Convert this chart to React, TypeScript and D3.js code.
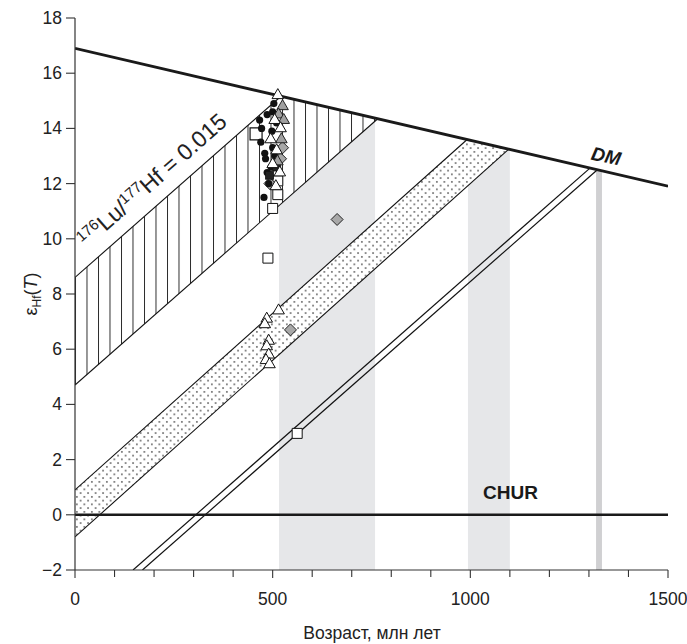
import React from "react";
import * as d3 from "d3";

// ---- data ----
const xTicks = [0, 500, 1000, 1500];
const xMinorTicks = [100, 200, 300, 400, 600, 700, 800, 900, 1100, 1200, 1300, 1400];
const yTicks = [-2, 0, 2, 4, 6, 8, 10, 12, 14, 16, 18];

// DM line: [eps at 0 Ma, slope per Ma]
const dmLine = [16.9, -0.00333];
const churLine = [0, 0];
// hatched band (176Lu/177Hf = 0.015): [upper intercept, lower intercept, slope]
const hatchBand = [8.6, 4.7, 0.0126];
// dotted band
const dotBand = [0.9, -0.8, 0.0128];
// double line
const doubleLine = [-3.85, -4.15, 0.0126];
// grey age intervals [from, to]
const greyBands = [[516, 759], [994, 1100]];
const darkBands = [[1318, 1333]];

const blackCircles = [
  [467, 14.3], [486, 14.5], [500, 14.6], [470, 13.5], [498, 13.9], [480, 13.1],
  [500, 13.3], [486, 12.4], [478, 11.5], [496, 12.6], [510, 14.2], [505, 13.0],
  [490, 12.0], [482, 12.9], [472, 14.0], [503, 14.9]
];
const openTriangles = [
  [513, 15.2], [505, 14.3], [520, 14.0], [495, 13.6], [510, 13.2], [500, 12.7],
  [518, 12.4], [508, 11.9],
  [515, 7.4], [485, 7.1], [480, 6.9], [490, 6.3], [485, 6.1], [490, 5.8], [483, 5.6], [492, 5.45]
];
const greyTriangles = [[525, 14.8], [515, 14.5], [522, 13.6], [512, 12.8], [528, 14.3]];
const openSquares = [[458, 13.8], [513, 12.1], [513, 11.6], [500, 11.1], [488, 9.3], [562, 2.95]];
const blackSquares = [[510, 12.6], [492, 12.3]];
const greyDiamonds = [[493, 12.0], [520, 12.9], [525, 13.3], [663, 10.7], [545, 6.7]];

// ---- layout ----
const W = 687, H = 644;
const x = d3.scaleLinear().domain([0, 1500]).range([75, 668]);
const y = d3.scaleLinear().domain([-2, 18]).range([570, 18]);

const dm = (t: number) => dmLine[0] + dmLine[1] * t;
const meetDM = (a: number, s: number) => (dmLine[0] - a) / (s - dmLine[1]);
const lineFn = d3.line<number[]>().x((d) => x(d[0])).y((d) => y(d[1]));

function bandPolygon(a: number, b: number, s: number) {
  const tu = meetDM(a, s), tl = meetDM(b, s);
  return lineFn([[0, a], [tu, dm(tu)], [tl, dm(tl)], [0, b]]) + "Z";
}
function segToDM(a: number, s: number, t0: number) {
  const t1 = meetDM(a, s);
  return lineFn([[t0, a + s * t0], [t1, dm(t1)]]);
}
function ageBand(b: number[]) {
  return lineFn([[b[0], -2], [b[0], dm(b[0])], [b[1], dm(b[1])], [b[1], -2]]) + "Z";
}

const FONT = "'Liberation Sans', Arial, sans-serif";

export default function App() {
  const tri = d3.symbol().type(d3.symbolTriangle).size(58)()!;
  const sq = d3.symbol().type(d3.symbolSquare).size(100)()!;
  const diamond = "M0,-6L6,0L0,6L-6,0Z";

  // hatched label placement
  const la = 232;
  const angle = (Math.atan2(-(y(hatchBand[0] + hatchBand[2] * 100) - y(hatchBand[0])), x(100) - x(0)) * 180) / Math.PI;
  const lx = x(la), ly = y(hatchBand[0] + hatchBand[2] * la);
  const off = 14;
  const rad = (angle * Math.PI) / 180;
  const tx = lx - off * Math.sin(rad), ty = ly - off * Math.cos(rad);

  // double-line start at eps=-2
  const dl0 = (-2 - doubleLine[0]) / doubleLine[2];
  const dl1 = (-2 - doubleLine[1]) / doubleLine[2];

  return (
    <svg width={W} height={H} style={{ position: "absolute", left: 0, top: 0, background: "#fff" }} fontFamily={FONT}>
      <defs>
        <pattern id="hatch" patternUnits="userSpaceOnUse" width={11.5} height={10} x={x(0)}>
          <line x1={0.5} y1={0} x2={0.5} y2={10} stroke="#111" strokeWidth={0.9} />
        </pattern>
        <pattern id="dots" patternUnits="userSpaceOnUse" width={7.5} height={7.5}>
          <rect x={1} y={1} width={1.7} height={1.7} fill="#6e6e6e" />
          <rect x={4.75} y={4.75} width={1.7} height={1.7} fill="#6e6e6e" />
        </pattern>
        <clipPath id="plot">
          <rect x={x(0)} y={y(18)} width={x(1500) - x(0)} height={y(-2) - y(18)} />
        </clipPath>
      </defs>

      <g clipPath="url(#plot)">
        {greyBands.map((b, i) => (
          <path key={i} d={ageBand(b)} fill="#e6e7e9" />
        ))}
        {darkBands.map((b, i) => (
          <path key={i} d={ageBand(b)} fill="#d0d0d2" />
        ))}

        <path d={bandPolygon(hatchBand[0], hatchBand[1], hatchBand[2])} fill="#fff" />
        <path d={bandPolygon(hatchBand[0], hatchBand[1], hatchBand[2])} fill="url(#hatch)" />
        <path d={segToDM(hatchBand[0], hatchBand[2], 0)!} stroke="#111" strokeWidth={1.1} fill="none" />
        <path d={segToDM(hatchBand[1], hatchBand[2], 0)!} stroke="#111" strokeWidth={1.1} fill="none" />

        <path d={bandPolygon(dotBand[0], dotBand[1], dotBand[2])} fill="#fff" />
        <path d={bandPolygon(dotBand[0], dotBand[1], dotBand[2])} fill="url(#dots)" />
        <path d={segToDM(dotBand[0], dotBand[2], 0)!} stroke="#111" strokeWidth={1.1} fill="none" />
        <path d={segToDM(dotBand[1], dotBand[2], 0)!} stroke="#111" strokeWidth={1.1} fill="none" />

        <path d={segToDM(doubleLine[0], doubleLine[2], dl0)!} stroke="#111" strokeWidth={1.2} fill="none" />
        <path d={segToDM(doubleLine[1], doubleLine[2], dl1)!} stroke="#111" strokeWidth={1.2} fill="none" />

        <line x1={x(0)} x2={x(1500)} y1={y(churLine[0])} y2={y(churLine[0] + churLine[1] * 1500)} stroke="#1a1a1a" strokeWidth={2.6} />
        <line x1={x(0)} x2={x(1500)} y1={y(dm(0))} y2={y(dm(1500))} stroke="#1a1a1a" strokeWidth={2.8} />
      </g>

      {/* points */}
      {openSquares.map((d, i) => (
        <path key={"os" + i} d={sq} transform={`translate(${x(d[0])},${y(d[1])})${i === 0 ? " scale(1.2)" : ""}`} fill="#fff" stroke="#111" strokeWidth={1} />
      ))}
      {greyDiamonds.map((d, i) => (
        <path key={"gd" + i} d={diamond} transform={`translate(${x(d[0])},${y(d[1])})`} fill="#a8a8a8" stroke="#222" strokeWidth={1} />
      ))}
      {blackCircles.map((d, i) => (
        <circle key={"bc" + i} cx={x(d[0])} cy={y(d[1])} r={3.6} fill="#111" />
      ))}
      {blackSquares.map((d, i) => (
        <path key={"bs" + i} d={sq} transform={`translate(${x(d[0])},${y(d[1])}) scale(0.8)`} fill="#222" stroke="#111" strokeWidth={1} />
      ))}
      {greyTriangles.map((d, i) => (
        <path key={"gt" + i} d={tri} transform={`translate(${x(d[0])},${y(d[1])})`} fill="#a0a0a0" stroke="#222" strokeWidth={1} />
      ))}
      {openTriangles.map((d, i) => (
        <path key={"ot" + i} d={tri} transform={`translate(${x(d[0])},${y(d[1])})`} fill="#fff" stroke="#111" strokeWidth={1} />
      ))}

      {/* axes */}
      <line x1={x(0)} x2={x(0)} y1={y(-2)} y2={y(18)} stroke="#333" strokeWidth={1.2} />
      <line x1={x(0)} x2={x(1500)} y1={y(-2)} y2={y(-2)} stroke="#333" strokeWidth={1.2} />
      {yTicks.map((t) => (
        <g key={"yt" + t}>
          <line x1={x(0) - 9} x2={x(0)} y1={y(t)} y2={y(t)} stroke="#333" strokeWidth={1.1} />
          <text x={x(0) - 13} y={y(t) + 6} textAnchor="end" fontSize={17.5} fill="#222">
            {t < 0 ? "\u2212" + Math.abs(t) : t}
          </text>
        </g>
      ))}
      {xTicks.map((t) => (
        <g key={"xt" + t}>
          <line x1={x(t)} x2={x(t)} y1={y(-2)} y2={y(-2) + 8} stroke="#333" strokeWidth={1.1} />
          <text x={x(t)} y={y(-2) + 35} textAnchor="middle" fontSize={17.5} fill="#222">{t}</text>
        </g>
      ))}
      {xMinorTicks.map((t) => (
        <line key={"xm" + t} x1={x(t)} x2={x(t)} y1={y(-2)} y2={y(-2) + 7} stroke="#333" strokeWidth={1.1} />
      ))}

      <text x={372} y={639} textAnchor="middle" fontSize={17.5} fill="#222">Возраст, млн лет</text>
      <text transform={`translate(37,${(y(18) + y(-2)) / 2}) rotate(-90)`} textAnchor="middle" fontSize={18} fill="#222">
        ε<tspan fontSize={12} dy={4}>Hf</tspan><tspan dy={-4}>(</tspan><tspan fontStyle="italic">T</tspan>)
      </text>

      <text x={x(1032)} y={y(0) - 16} fontSize={19} fontWeight="bold" fill="#1a1a1a">CHUR</text>
      <text transform={`translate(${x(1340)},${y(dm(1340)) - 9}) rotate(12)`} textAnchor="middle" fontSize={19} fontWeight="bold" fontStyle="italic" fill="#1a1a1a">DM</text>

      <text transform={`translate(${tx},${ty}) rotate(${-angle})`} textAnchor="middle" fontSize={23} fill="#222">
        <tspan fontSize={15} dy={-8}>176</tspan><tspan dy={8}>Lu/</tspan><tspan fontSize={15} dy={-8}>177</tspan><tspan dy={8}>Hf = 0.015</tspan>
      </text>
    </svg>
  );
}
